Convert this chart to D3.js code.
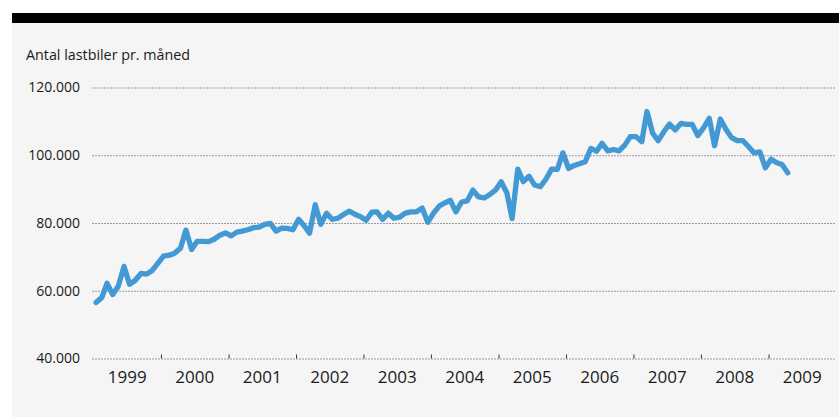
<!DOCTYPE html>
<html>
<head>
<meta charset="utf-8">
<script src="https://cdn.jsdelivr.net/npm/d3@7"></script>
<style>
  html, body { margin: 0; padding: 0; background: #ffffff; }
  svg { display: block; }
  text { font-family: "Open Sans", "Noto Sans", sans-serif; fill: #1a1a1a; }
</style>
</head>
<body>
<svg id="chart" width="839" height="417"></svg>
<script>
// ---- Data ----
const title = "Antal lastbiler pr. måned";
const startYear = 1999;
const startMonth = 0; // January
const values = [
  56500, 58000, 62200, 58900, 61300, 67200, 61900, 63100, 65100, 64900, 66000, 68100,
  70200, 70500, 71100, 72500, 77900, 72200, 74600, 74600, 74500, 75200, 76400, 77100,
  76200, 77300, 77600, 78000, 78600, 78800, 79600, 79900, 77600, 78500, 78400, 78000,
  81100, 79100, 77000, 85400, 79600, 82900, 81100, 81400, 82500, 83500, 82600, 81900,
  80800, 83200, 83300, 81100, 82900, 81400, 81700, 82900, 83300, 83300, 84400, 80200,
  82900, 85000, 85900, 86700, 83300, 86200, 86500, 89700, 87700, 87400, 88400, 89700,
  92200, 88900, 81300, 95900, 92200, 93800, 91200, 90700, 93000, 95900, 95800, 100700,
  96100, 97000, 97500, 98100, 102000, 101200, 103500, 101300, 101700, 101300, 103000, 105500,
  105500, 104000, 112900, 106500, 104300, 107000, 109200, 107500, 109400, 109100, 109100, 105800,
  108100, 110900, 102800, 110700, 107700, 105200, 104300, 104300, 102500, 100700, 101000, 96300,
  98800, 97800, 97300, 94800
];
const yTicks = [40000, 60000, 80000, 100000, 120000];
const yTickLabels = ["40.000", "60.000", "80.000", "100.000", "120.000"];
const years = [1999, 2000, 2001, 2002, 2003, 2004, 2005, 2006, 2007, 2008, 2009];

// ---- Layout ----
const svg = d3.select("#chart");
const W = 839, H = 417;

svg.append("rect").attr("x", 12).attr("y", 13).attr("width", W - 12).attr("height", H - 13).attr("fill", "#f5f5f5");
svg.append("rect").attr("x", 12).attr("y", 13).attr("width", W - 12).attr("height", 10).attr("fill", "#000000");

const x = d3.scaleTime()
  .domain([new Date(startYear, 0, 1), new Date(years[years.length - 1] + 1, 0, 1)])
  .range([93.5, 836]);
const y = d3.scaleLinear().domain([40000, 120000]).range([358.5, 87.5]);

const data = values.map((v, i) => ({ date: new Date(startYear, startMonth + i, 15), value: v }));

// Title
svg.append("text").attr("x", 26).attr("y", 60).attr("font-size", 14.3).text(title);

// Gridlines + y labels
const yAxis = d3.axisLeft(y).tickValues(yTicks)
  .tickSize(-(836 - 92.5))
  .tickFormat((d, i) => yTickLabels[i]);
const gy = svg.append("g").attr("transform", "translate(92.5,0)").call(yAxis);
gy.select(".domain").remove();
gy.selectAll(".tick line")
  .attr("stroke", "#444").attr("stroke-width", 1.2).attr("stroke-dasharray", "1,2");
gy.selectAll(".tick text")
  .attr("x", -12.5).attr("font-size", 14).attr("fill", "#1a1a1a")
  .style("font-family", "'Open Sans', 'Noto Sans', sans-serif");

// x axis: year ticks and centered year labels
const yearStarts = years.slice(1).map(yr => new Date(yr, 0, 1));
const xAxis = d3.axisTop(x).tickValues(yearStarts).tickSize(4).tickFormat("");
const gx = svg.append("g").attr("transform", "translate(0,358.5)").call(xAxis);
gx.select(".domain").remove();
gx.selectAll(".tick line").attr("stroke", "#333").attr("stroke-width", 1);

svg.append("g").selectAll("text").data(years).join("text")
  .attr("x", d => (x(new Date(d, 0, 1)) + x(new Date(d + 1, 0, 1))) / 2)
  .attr("y", 382.5)
  .attr("text-anchor", "middle")
  .attr("font-size", 17)
  .text(d => d);

// Line
const line = d3.line().x(d => x(d.date)).y(d => y(d.value));
svg.append("path").datum(data)
  .attr("d", line)
  .attr("fill", "none")
  .attr("stroke", "#4299d4")
  .attr("stroke-width", 5.3)
  .attr("stroke-linejoin", "round")
  .attr("stroke-linecap", "round");
</script>
</body>
</html>
